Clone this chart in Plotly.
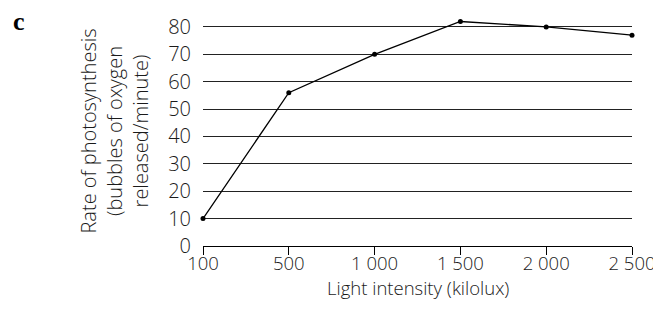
import plotly.graph_objects as go

light_labels = ["100", "500", "1 000", "1 500", "2 000", "2 500"]
rate_values = [10, 56, 70, 82, 80, 77]
y_ticks = [0, 10, 20, 30, 40, 50, 60, 70, 80]
y_max_label = 80
x_title = "Light intensity (kilolux)"
y_title = "Rate of photosynthesis<br>(bubbles of oxygen<br>released/minute)"
panel_label = "c"

FONT = "Open Sans, Noto Sans, sans-serif"
TXT = "#1a1a1a"

OFF = 8  # default page body margin; keep the page from overflowing the window
W, H = 661 - OFF, 311 - 2 * OFF
L, R, T, B = 203 - OFF, 29, 13 - OFF, 57
PW, PH = W - L - R, H - T - B

def px(x):  # page pixel -> paper coordinate
    return (x - OFF - L) / PW

def py(y):
    return (H - B - (y - OFF)) / PH

fig = go.Figure()
fig.add_trace(go.Scatter(
    x=light_labels, y=rate_values, mode="lines+markers",
    line=dict(color="black", width=1.3),
    marker=dict(color="black", size=5),
    cliponaxis=False, showlegend=False,
))

fig.update_layout(
    width=W, height=H, autosize=False,
    margin=dict(l=L, r=R, t=T, b=B),
    paper_bgcolor="white", plot_bgcolor="white",
    font=dict(family=FONT, color=TXT, size=18),
    shapes=[dict(type="line", xref="x", yref="y", x0=light_labels[0], x1=light_labels[0],
                 y0=0, y1=y_max_label, line=dict(color="black", width=1), layer="above")],
    annotations=[
        dict(text="<b>" + panel_label + "</b>", xref="paper", yref="paper",
             x=px(11), y=py(2), xanchor="left", yanchor="top", showarrow=False,
             font=dict(family="Liberation Serif, DejaVu Serif, serif", size=26, color="black")),
        dict(text=x_title, xref="paper", yref="paper", x=0.5, y=py(OFF + H),
             xanchor="center", yanchor="bottom", showarrow=False,
             font=dict(size=18.5, family=FONT, color=TXT, weight=300)),
    ],
)
fig.update_xaxes(
    type="category", range=[0, 5], showgrid=False,
    showline=True, linecolor="black", linewidth=1,
    ticks="outside", ticklen=8, tickcolor="black", tickwidth=1,
    ticklabelstandoff=-7,
    tickfont=dict(size=18.5, family=FONT, color=TXT, weight=300),
)
fig.update_yaxes(
    range=[0, 84], tickvals=y_ticks, showgrid=True, gridcolor="#222", gridwidth=1,
    showline=False, zeroline=False,
    ticks="", ticklabelstandoff=11,
    tickfont=dict(size=20, family=FONT, color=TXT, weight=300),
    title=dict(text=y_title, font=dict(size=20, family=FONT, color=TXT, weight=300), standoff=14),
)

fig.write_html("out.html", config={"responsive": False, "displayModeBar": False})
